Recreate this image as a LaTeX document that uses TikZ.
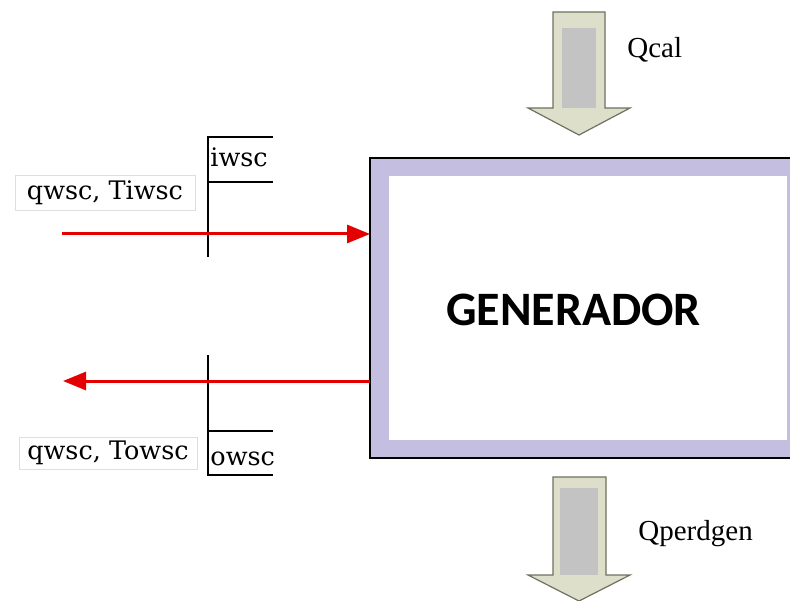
\documentclass[tikz,border=0pt]{standalone}
\usepackage{fontspec}
\setmainfont{Liberation Serif}
\newfontfamily\labfont{DejaVu Serif}
\newfontfamily\genfont{Carlito}
\usepackage{xcolor}
\usepackage{tikz}
\usetikzlibrary{positioning,arrows.meta,calc}
\definecolor{flowred}{RGB}{228,0,0}
\definecolor{framepurple}{RGB}{196,190,224}
\definecolor{heatfill}{RGB}{221,223,203}
\definecolor{heatline}{RGB}{112,112,96}
\definecolor{heatcore}{RGB}{195,195,195}
\definecolor{tagline}{RGB}{222,222,222}
\tikzset{
    frame/.style={draw=black, fill=framepurple, line width=0.6pt},
    core/.style={fill=white},
    flow/.style={-{Triangle[length=11.5pt, width=9pt]}, line width=1.5pt, draw=flowred},
    heat/.style={draw=heatline, fill=heatfill, line width=0.6pt, line join=miter},
    heatin/.style={fill=heatcore},
    tab/.style={draw=black, line width=0.7pt},
    tagbox/.style={draw=tagline, line width=0.4pt, inner sep=0pt, font=\labfont\fontsize{12.75}{14}\selectfont},
    tabtext/.style={anchor=base west, inner sep=0pt, font=\labfont\fontsize{12.75}{14}\selectfont},
    heattext/.style={anchor=base west, inner sep=0pt, font=\fontsize{14.5}{16}\selectfont}
}

\begin{document}
\begin{tikzpicture}[x=0.5pt,y=0.5pt]
\useasboundingbox (0,0) rectangle (790,600);
\clip (0,0) rectangle (790,600);
% generator block
\draw[frame] (370,142) rectangle (806,442);
\fill[core] (389,160) rectangle (787,424);
\node[anchor=base, inner sep=0pt, font=\genfont\bfseries\fontsize{24}{27}\selectfont] (gen) at (573.5,275) {GENERADOR};
% heat in and out
\draw[heat] (553,588) -- (605,588) -- (605,492) -- (630,492) -- (579,465) -- (528,492) -- (553,492) -- cycle;
\fill[heatin] (562,572) rectangle (596,492);
\node[heattext] (qcal) at (627,542) {Qcal};
\draw[heat] (553,123) -- (606,123) -- (606,25) -- (630,25) -- (579,-1) -- (528,25) -- (553,25) -- cycle;
\fill[heatin] (560,112) rectangle (598,25);
\node[heattext] (qperd) at (638,60) {Qperdgen};
% water in
\coordinate (inL) at (62,366);
\coordinate (inR) at (370,366);
\draw[tab] (208,343) -- (208,463) -- (273,463);
\draw[tab] (208,418) -- (273,418);
\node[tabtext] (iwsc) at (210,433) {iwsc};
\node[tagbox, minimum width=90pt, minimum height=17.5pt] (intag) at (105,407.5) {qwsc, Tiwsc};
\draw[flow] (inL) -- (inR);
% water out
\coordinate (outR) at (370,219);
\coordinate (outL) at (63,219);
\draw[tab] (208,245) -- (208,125) -- (273,125);
\draw[tab] (208,169) -- (273,169);
\node[tabtext] (owsc) at (210,135) {owsc};
\node[tagbox, minimum width=89pt, minimum height=16pt] (outtag) at (108,147) {qwsc, Towsc};
\draw[flow] (outR) -- (outL);
\end{tikzpicture}
\end{document}
